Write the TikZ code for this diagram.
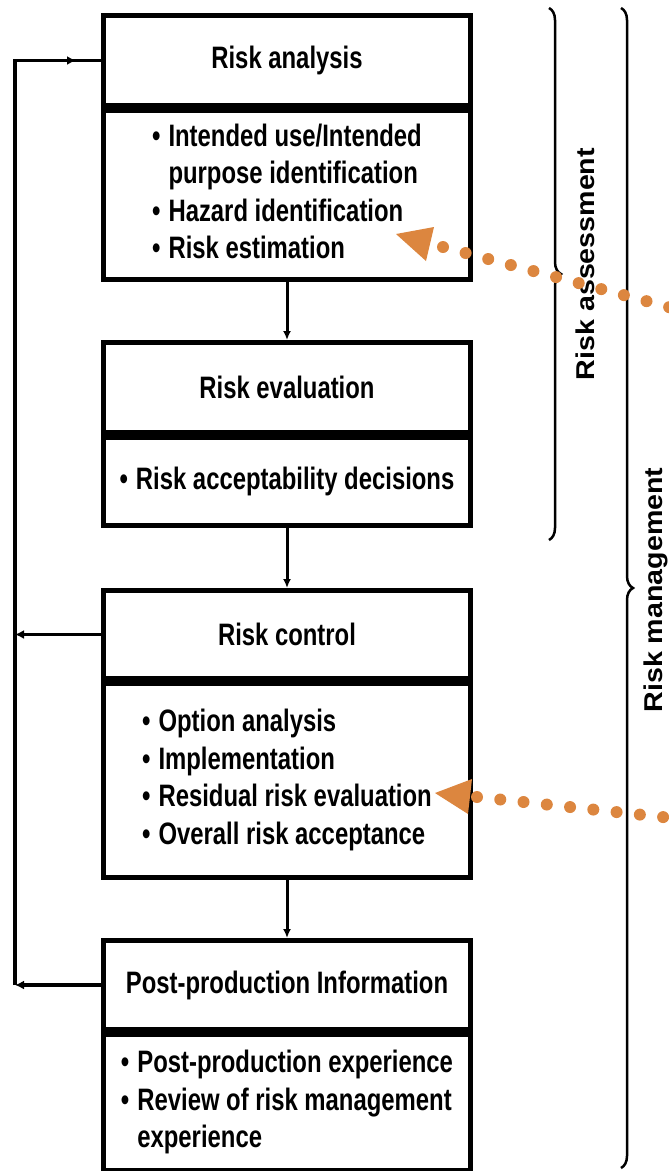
\documentclass[tikz,border=0pt]{standalone}
\usepackage{fontspec}
\setmainfont{Liberation Sans}[FakeStretch=0.77]
\newfontfamily\vfont{Liberation Sans}
\usetikzlibrary{arrows.meta,decorations.pathreplacing,decorations.markings}
\definecolor{dotor}{HTML}{DC863F}
\newcommand{\fs}{\fontsize{31}{37.5}\selectfont\bfseries}
\newcommand{\bl}{\textbullet}
\begin{document}
\begin{tikzpicture}[x=1pt,y=-1pt,
  box/.style={draw, line width=5pt, minimum width=367pt, inner sep=0pt, font=\fs, anchor=north},
  conn/.style={line width=3pt, -{Latex[length=9pt,width=8pt]}},
  fb/.style={line width=3.5pt},
  fbarrow/.style={line width=3.5pt, -{Latex[length=9pt,width=9pt]}},
  bracestyle/.style={line width=2.5pt, decorate, decoration={brace, amplitude=12pt, aspect=0.5}},
  dotline/.style={dotor, line width=12pt, line cap=round, dash pattern=on 0pt off 23.4pt},
  vlab/.style={font=\vfont\fontsize{28.6}{34}\selectfont\bfseries, rotate=90, inner sep=0pt}
]
\useasboundingbox (0,0) rectangle (669,1171);

% Risk analysis
\node[box, minimum height=90pt] (rah) at (287,13) {Risk analysis};
\node[box, minimum height=169pt] (rab) at (rah.south) {\begin{tabular}{@{}l@{\hspace{8pt}}l@{}}
\bl & Intended use/Intended\\ & purpose identification\\ \bl & Hazard identification\\ \bl & Risk estimation\end{tabular}};

% Risk evaluation
\node[box, minimum height=90pt] (reh) at (287,340) {Risk evaluation};
\node[box, minimum height=88pt] (reb) at (reh.south) {\begin{tabular}{@{}l@{\hspace{8pt}}l@{}}
\bl & Risk acceptability decisions\end{tabular}};

% Risk control
\node[box, minimum height=88pt] (rch) at (287,588) {Risk control};
\node[box, minimum height=194pt] (rcb) at (rch.south) {\begin{tabular}{@{}l@{\hspace{8pt}}l@{}}
\bl & Option analysis\\ \bl & Implementation\\ \bl & Residual risk evaluation\\ \bl & Overall risk acceptance\end{tabular}};

% Post-production information
\node[box, minimum height=89pt] (pph) at (287,938) {Post-production Information};
\node[box, minimum height=136pt] (ppb) at (pph.south) {\begin{tabular}{@{}l@{\hspace{8pt}}l@{}}
\bl & Post-production experience\\ \bl & Review of risk management\\ & experience\end{tabular}};

% forward connectors
\draw[conn] (rab.south) -- (reh.north);
\draw[conn] (reb.south) -- (rch.north);
\draw[conn] (rcb.south) -- (pph.north);

% feedback loop
\coordinate (lx) at (15,0);
\coordinate (lb) at (lx |- pph.west);
\coordinate (lt) at (lx |- rah.west);
\draw[fbarrow] (pph.west) -- (lb);
\draw[fbarrow] (rch.west) -- (lx |- rch.west);
\draw[fb, postaction={decorate}, decoration={markings, mark=at position -25pt with {\arrow{Latex[length=9pt,width=9pt]}}}] (lb) -- (lt) -- (rah.west);

% braces
\coordinate (b1t) at (549,8);
\coordinate (b1b) at (549,540);
\coordinate (b2t) at (621,8);
\coordinate (b2b) at (621,1168);
\draw[bracestyle] (b1t) -- (b1b);
\draw[bracestyle] (b2t) -- (b2b);
\node[vlab] (lra) at (585,264) {\scalebox{1}[0.9]{Risk assessment}};
\node[vlab] (lrm) at (656,590) {\scalebox{1}[0.9]{Risk management}};

% orange dotted pointers
\coordinate (s1) at (676,309);
\coordinate (e1) at (443,247);
\coordinate (s2) at (690,820);
\coordinate (e2) at (477,797);
\draw[dotline] (e1) -- (s1);
\draw[dotline] (e2) -- (s2);
\fill[dotor] (396,234) -- (434,227) -- (426,261) -- cycle;
\fill[dotor] (435,793) -- (472,779) -- (468,814) -- cycle;
\end{tikzpicture}
\end{document}
